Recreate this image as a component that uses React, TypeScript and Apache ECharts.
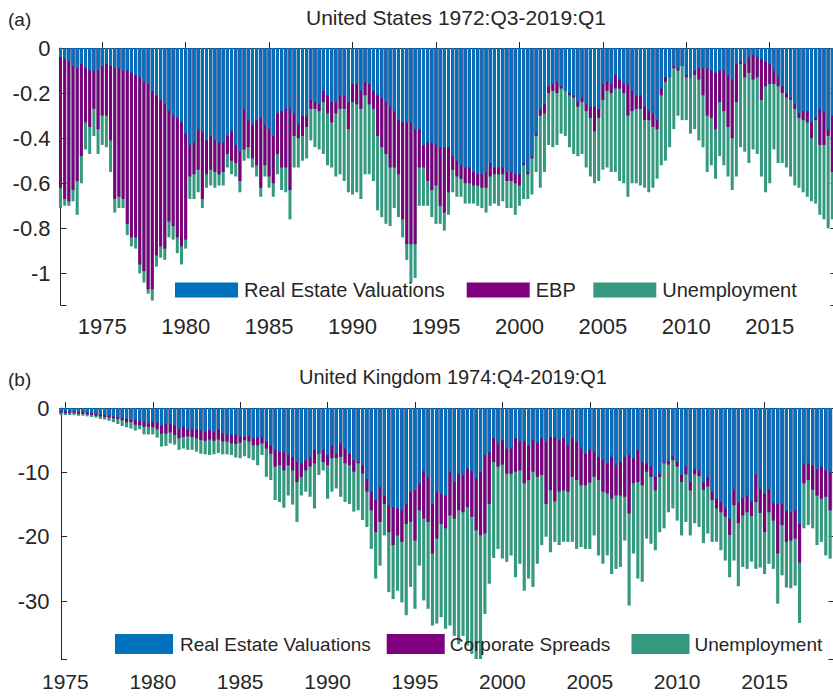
import React, { useEffect, useRef } from 'react';
import * as echarts from 'echarts';

// ---------- data ----------
const tickYears = ['1975', '1980', '1985', '1990', '1995', '2000', '2005', '2010', '2015'];
const usStart = { year: 1972, quarter: 3 };
const ukStart = { year: 1974, quarter: 4 };

// US: bottom of the blue segment (Real Estate Valuations contribution)
const usRealEstate = [
  -0.04, -0.05, -0.06, -0.08, -0.09, -0.07, -0.09, -0.10, -0.10, -0.10,
  -0.08, -0.07, -0.08, -0.09, -0.09, -0.10, -0.10, -0.11, -0.12, -0.13,
  -0.15, -0.16, -0.19, -0.21, -0.23, -0.25, -0.28, -0.30, -0.31, -0.33,
  -0.38, -0.43, -0.42, -0.36, -0.37, -0.41, -0.39, -0.41, -0.42, -0.42,
  -0.39, -0.37, -0.43, -0.46, -0.27, -0.32, -0.34, -0.32, -0.31, -0.34,
  -0.36, -0.39, -0.29, -0.28, -0.27, -0.27, -0.29, -0.34, -0.30, -0.30,
  -0.23, -0.24, -0.25, -0.19, -0.21, -0.24, -0.24, -0.21, -0.21, -0.24,
  -0.16, -0.16, -0.19, -0.15, -0.16, -0.19, -0.21, -0.22, -0.24, -0.26,
  -0.28, -0.32, -0.33, -0.33, -0.33, -0.36, -0.36, -0.43, -0.42, -0.42,
  -0.43, -0.44, -0.44, -0.44, -0.48, -0.50, -0.52, -0.53, -0.53, -0.55,
  -0.56, -0.56, -0.55, -0.51, -0.53, -0.53, -0.53, -0.55, -0.55, -0.56,
  -0.56, -0.51, -0.55, -0.48, -0.38, -0.27, -0.25, -0.17, -0.16, -0.15,
  -0.17, -0.19, -0.20, -0.21, -0.24, -0.22, -0.25, -0.26, -0.26, -0.27,
  -0.16, -0.15, -0.16, -0.12, -0.14, -0.16, -0.16, -0.19, -0.21, -0.21,
  -0.26, -0.28, -0.29, -0.32, -0.18, -0.13, -0.13, -0.08, -0.09, -0.08,
  -0.12, -0.13, -0.10, -0.09, -0.09, -0.09, -0.10, -0.11, -0.10, -0.10,
  -0.12, -0.14, -0.07, -0.06, -0.07, -0.04, -0.03, -0.04, -0.05, -0.06,
  -0.07, -0.10, -0.13, -0.17, -0.20, -0.22, -0.25, -0.29, -0.28, -0.28,
  -0.33, -0.31, -0.27, -0.28, -0.36, -0.30, -0.33,
];
// US: bottom of the purple segment (Real Estate + EBP)
const usRealEstatePlusEbp = [
  -0.62, -0.67, -0.68, -0.63, -0.59, -0.48, -0.33, -0.35, -0.27, -0.36,
  -0.30, -0.30, -0.41, -0.67, -0.66, -0.67, -0.78, -0.84, -0.84, -0.96,
  -0.99, -1.07, -1.07, -0.92, -0.88, -0.89, -0.77, -0.79, -0.84, -0.88,
  -0.85, -0.57, -0.56, -0.54, -0.67, -0.56, -0.54, -0.55, -0.56, -0.55,
  -0.47, -0.50, -0.51, -0.59, -0.45, -0.44, -0.49, -0.52, -0.62, -0.52,
  -0.57, -0.60, -0.47, -0.53, -0.53, -0.63, -0.39, -0.40, -0.39, -0.35,
  -0.27, -0.27, -0.28, -0.24, -0.29, -0.33, -0.29, -0.27, -0.27, -0.36,
  -0.24, -0.25, -0.27, -0.21, -0.25, -0.27, -0.39, -0.44, -0.47, -0.53,
  -0.53, -0.56, -0.76, -0.87, -0.87, -0.87, -0.53, -0.53, -0.59, -0.63,
  -0.61, -0.70, -0.73, -0.64, -0.54, -0.57, -0.58, -0.60, -0.60, -0.61,
  -0.61, -0.62, -0.62, -0.57, -0.56, -0.56, -0.56, -0.59, -0.59, -0.60,
  -0.61, -0.52, -0.56, -0.49, -0.39, -0.30, -0.29, -0.20, -0.19, -0.20,
  -0.18, -0.19, -0.21, -0.22, -0.26, -0.24, -0.28, -0.31, -0.37, -0.31,
  -0.23, -0.19, -0.20, -0.18, -0.18, -0.20, -0.30, -0.28, -0.27, -0.27,
  -0.32, -0.32, -0.35, -0.36, -0.21, -0.15, -0.13, -0.09, -0.10, -0.08,
  -0.13, -0.13, -0.12, -0.14, -0.21, -0.30, -0.31, -0.36, -0.24, -0.28,
  -0.35, -0.40, -0.24, -0.07, -0.13, -0.11, -0.14, -0.13, -0.23, -0.17,
  -0.16, -0.16, -0.17, -0.20, -0.22, -0.23, -0.27, -0.31, -0.32, -0.33,
  -0.40, -0.32, -0.43, -0.43, -0.39, -0.55, -0.60,
];
// US: bottom of the teal segment (total of the three)
const usTotal = [
  -0.71, -0.70, -0.70, -0.68, -0.74, -0.60, -0.45, -0.47, -0.39, -0.47,
  -0.43, -0.44, -0.55, -0.73, -0.71, -0.71, -0.83, -0.88, -0.89, -1.00,
  -1.04, -1.09, -1.12, -0.97, -0.93, -0.94, -0.84, -0.85, -0.91, -0.96,
  -0.89, -0.67, -0.67, -0.64, -0.71, -0.62, -0.61, -0.62, -0.61, -0.61,
  -0.53, -0.56, -0.57, -0.64, -0.50, -0.49, -0.53, -0.57, -0.66, -0.57,
  -0.62, -0.66, -0.56, -0.63, -0.64, -0.76, -0.53, -0.53, -0.50, -0.49,
  -0.41, -0.44, -0.45, -0.47, -0.52, -0.53, -0.57, -0.56, -0.59, -0.64,
  -0.65, -0.64, -0.67, -0.56, -0.56, -0.59, -0.72, -0.75, -0.78, -0.79,
  -0.71, -0.75, -0.84, -0.94, -1.04, -1.02, -0.70, -0.70, -0.70, -0.75,
  -0.78, -0.78, -0.81, -0.74, -0.64, -0.66, -0.66, -0.69, -0.69, -0.69,
  -0.70, -0.71, -0.73, -0.70, -0.69, -0.70, -0.68, -0.71, -0.71, -0.74,
  -0.70, -0.67, -0.67, -0.65, -0.55, -0.62, -0.55, -0.43, -0.44, -0.43,
  -0.38, -0.39, -0.44, -0.47, -0.48, -0.47, -0.53, -0.57, -0.60, -0.59,
  -0.54, -0.53, -0.55, -0.55, -0.59, -0.60, -0.66, -0.60, -0.60, -0.61,
  -0.62, -0.64, -0.62, -0.58, -0.52, -0.50, -0.44, -0.36, -0.30, -0.32,
  -0.32, -0.38, -0.36, -0.41, -0.44, -0.55, -0.52, -0.58, -0.48, -0.52,
  -0.57, -0.63, -0.57, -0.44, -0.46, -0.51, -0.45, -0.47, -0.57, -0.64,
  -0.60, -0.45, -0.51, -0.51, -0.53, -0.57, -0.61, -0.62, -0.64, -0.66,
  -0.68, -0.69, -0.74, -0.76, -0.80, -0.76, -0.82,
];

// UK: bottom of blue (Real Estate Valuations)
const ukRealEstate = [
  -0.5, -0.5, -0.5, -0.6, -0.6, -0.6, -0.7, -0.8, -0.9, -1.0,
  -1.1, -1.2, -1.3, -1.4, -1.5, -1.7, -1.8, -1.8, -2.0, -2.1,
  -2.4, -2.1, -2.3, -2.7, -2.4, -2.4, -2.7, -3.2, -2.9, -3.3,
  -3.3, -3.4, -3.5, -3.7, -3.4, -3.7, -3.3, -4.0, -4.1, -4.2,
  -4.1, -4.4, -4.5, -4.4, -4.7, -4.6, -4.5, -5.2, -5.8, -6.5,
  -6.8, -6.8, -7.3, -7.6, -8.4, -8.6, -8.1, -7.6, -6.5, -7.1,
  -6.5, -7.3, -5.8, -7.1, -5.5, -6.3, -7.1, -8.1, -8.4, -8.9,
  -11.0, -13.0, -14.3, -12.3, -13.6, -15.1, -15.4, -15.6, -15.9, -14.9,
  -13.0, -12.8, -11.7, -9.8, -10.7, -14.9, -13.0, -13.3, -13.6, -10.0,
  -11.5, -10.2, -10.4, -9.4, -9.8, -11.0, -9.9, -7.3, -6.9, -4.7,
  -5.5, -5.0, -6.3, -6.3, -4.7, -5.2, -5.2, -5.8, -5.0, -5.4,
  -4.7, -5.2, -4.5, -4.5, -5.0, -4.7, -5.8, -4.7, -5.2, -6.3,
  -7.1, -6.5, -6.8, -7.6, -8.1, -8.6, -7.6, -8.9, -8.4, -7.6,
  -7.3, -7.8, -6.5, -8.4, -8.6, -9.1, -10.7, -10.2, -8.4, -8.3,
  -7.5, -8.4, -10.4, -9.1, -11.5, -9.5, -9.8, -11.6, -10.7, -13.0,
  -14.1, -14.6, -15.6, -17.2, -12.6, -14.7, -14.0, -13.6, -14.5, -10.3,
  -12.6, -13.3, -12.6, -14.8, -14.9, -14.9, -16.0, -16.2, -15.9, -18.0,
  -8.8, -8.6, -8.9, -9.5, -9.1, -9.7, -10.0, -9.4,
];
// UK: bottom of purple (Real Estate + Corporate Spreads)
const ukRealEstatePlusSpreads = [
  -0.8, -0.8, -0.8, -0.8, -0.9, -0.9, -1.0, -1.1, -1.2, -1.3,
  -1.4, -1.5, -1.6, -1.7, -1.9, -2.2, -2.2, -2.6, -2.7, -2.9,
  -2.9, -3.0, -3.3, -4.0, -4.0, -3.8, -4.2, -4.7, -4.5, -4.4,
  -4.5, -4.7, -5.0, -5.1, -4.9, -5.1, -4.9, -5.2, -5.2, -5.5,
  -5.6, -5.4, -5.0, -5.2, -5.8, -5.8, -5.5, -6.3, -7.1, -9.1,
  -8.9, -9.7, -8.9, -9.7, -11.5, -10.7, -9.7, -9.1, -8.6, -7.1,
  -8.4, -8.9, -7.8, -7.8, -7.6, -8.6, -8.9, -9.9, -8.6, -10.2,
  -13.0, -15.9, -19.3, -17.7, -14.9, -19.3, -21.3, -19.8, -20.8, -18.0,
  -17.7, -20.6, -15.9, -17.2, -17.7, -22.6, -20.3, -18.0, -18.7, -16.7,
  -17.2, -15.9, -16.2, -15.4, -16.9, -19.0, -19.8, -19.5, -14.9, -8.4,
  -9.1, -8.8, -10.2, -10.2, -9.9, -9.7, -11.7, -11.2, -9.9, -10.7,
  -10.4, -14.9, -12.8, -14.5, -13.0, -12.8, -13.0, -10.7, -11.2, -12.0,
  -12.0, -11.6, -10.7, -11.2, -13.0, -13.3, -14.1, -13.6, -13.6, -13.8,
  -16.4, -11.7, -11.5, -12.0, -9.9, -10.7, -12.8, -10.7, -8.6, -8.8,
  -8.1, -9.1, -11.5, -10.3, -12.8, -10.3, -10.6, -12.7, -12.2, -14.3,
  -15.6, -16.2, -16.9, -19.7, -15.1, -17.9, -16.7, -16.2, -16.8, -14.6,
  -16.3, -19.3, -16.2, -17.5, -22.6, -18.2, -20.8, -20.6, -20.3, -24.0,
  -11.7, -11.2, -12.7, -13.6, -14.1, -13.8, -15.9, -15.6,
];
// UK: bottom of teal (total)
const ukTotal = [
  -1.1, -1.1, -1.1, -1.1, -1.2, -1.2, -1.3, -1.4, -1.5, -1.7,
  -1.8, -2.0, -2.2, -2.5, -2.8, -3.0, -3.2, -3.5, -3.3, -4.1,
  -4.1, -4.1, -4.6, -6.0, -5.9, -5.5, -5.7, -6.5, -6.3, -6.5,
  -6.5, -6.8, -7.1, -7.2, -7.3, -7.2, -7.0, -7.2, -7.2, -7.3,
  -7.7, -7.8, -7.5, -7.8, -8.1, -8.9, -7.3, -10.7, -11.2, -14.3,
  -14.6, -15.5, -13.6, -15.0, -17.7, -13.6, -13.0, -13.8, -15.6, -10.4,
  -9.7, -14.1, -13.0, -12.5, -13.8, -14.6, -14.9, -16.1, -15.9, -17.4,
  -18.5, -21.9, -26.5, -24.5, -19.8, -28.6, -29.7, -28.4, -30.2, -32.2,
  -27.8, -31.2, -24.5, -29.9, -31.2, -33.8, -33.5, -32.5, -34.3, -33.8,
  -35.4, -36.7, -35.4, -36.9, -38.2, -39.0, -39.0, -32.0, -27.3, -23.3,
  -21.9, -23.4, -23.9, -22.9, -26.3, -24.2, -28.4, -26.5, -27.8, -24.2,
  -21.3, -20.0, -22.4, -20.8, -21.3, -20.8, -20.8, -20.8, -21.9, -21.6,
  -21.9, -21.9, -19.8, -22.9, -24.2, -22.9, -25.8, -25.0, -24.7, -20.6,
  -30.7, -22.6, -26.5, -27.0, -20.3, -21.1, -22.1, -19.3, -18.7, -16.2,
  -15.6, -17.5, -19.8, -17.7, -19.8, -17.9, -18.5, -21.0, -19.5, -20.8,
  -20.8, -22.1, -23.7, -26.3, -23.7, -27.7, -24.7, -25.0, -23.9, -25.0,
  -24.8, -25.8, -24.2, -25.0, -30.4, -26.0, -27.9, -28.0, -27.6, -33.4,
  -18.7, -18.2, -18.7, -21.3, -20.8, -22.9, -23.4, -21.9,
];

// ---------- helpers ----------
function quarterLabels(start: { year: number; quarter: number }, count: number): string[] {
  const out: string[] = [];
  let y = start.year;
  let q = start.quarter;
  for (let i = 0; i < count; i++) {
    out.push(`${y}Q${q}`);
    q += 1;
    if (q > 4) { q = 1; y += 1; }
  }
  return out;
}

const FONT = '"Liberation Sans", Arial, Helvetica, sans-serif';
const INK = '#262626';
const BLUE = '#0072bd';
const PURPLE = '#7e007e';
const TEAL = '#35997f';

const isTick = (_i: number, v: string) => v.endsWith('Q1') && tickYears.includes(v.slice(0, 4));

function xAxesFor(gridIndex: number, cats: string[], fontSize: number, margin: number) {
  return [
    {
      type: 'category', gridIndex, data: cats, boundaryGap: false, position: 'bottom',
      axisLine: { show: true, lineStyle: { color: INK, width: 1 } },
      axisTick: { show: true, inside: true, length: 6, interval: isTick, lineStyle: { color: INK } },
      axisLabel: {
        show: true, interval: isTick, formatter: (v: string) => v.slice(0, 4),
        color: INK, fontSize, fontFamily: FONT, margin,
      },
      splitLine: { show: false },
    },
    {
      type: 'category', gridIndex, data: cats, boundaryGap: false, position: 'top',
      axisLine: { show: true, lineStyle: { color: INK, width: 1 } },
      axisTick: { show: true, inside: true, length: 6, interval: isTick, lineStyle: { color: INK } },
      axisLabel: { show: false },
      splitLine: { show: false },
    },
  ];
}

function yAxesFor(gridIndex: number, min: number, splitNumber: number, step: number, fontSize: number, margin: number) {
  const fmt = (v: number) => {
    const r = Math.round(v / step) * step;
    if (Math.abs(v - r) > 1e-6) return '';
    const n = parseFloat(r.toFixed(2));
    return n === 0 ? '0' : String(n);
  };
  const common = {
    type: 'value', gridIndex, min, max: 0, splitNumber,
    axisLine: { show: true, lineStyle: { color: INK, width: 1 } },
    axisTick: { show: true, inside: true, length: 6, lineStyle: { color: INK } },
    splitLine: { show: false },
  };
  return [
    { ...common, position: 'left', axisLabel: { show: true, formatter: fmt, color: INK, fontSize, fontFamily: FONT, margin } },
    { ...common, position: 'right', axisLabel: { show: false } },
  ];
}

function legendItem(name: string, left: number, top: number, w: number, h: number, fontSize: number, padLeft = 0) {
  return {
    show: true, data: [name], left, top, orient: 'horizontal',
    itemWidth: w, itemHeight: h, itemGap: 0, padding: 0, icon: 'rect', selectedMode: false,
    textStyle: { color: INK, fontSize, fontFamily: FONT, padding: [0, 0, 0, padLeft] },
  };
}

function bar(name: string, data: number[], color: string, axisIndex: number) {
  return {
    type: 'bar', name, data, xAxisIndex: axisIndex, yAxisIndex: axisIndex,
    barWidth: '72%', barGap: '-100%', clip: true, silent: true,
    itemStyle: { color, borderWidth: 0 },
  };
}

function text(t: string, x: number, y: number, size: number, align: string) {
  return {
    type: 'text', x, y, silent: true,
    style: {
      text: t, fill: INK, font: `${size}px ${FONT}`,
      align, textAlign: align, verticalAlign: 'middle', textVerticalAlign: 'middle',
    },
  };
}

export default function App() {
  const ref = useRef<HTMLDivElement>(null);

  useEffect(() => {
    if (!ref.current) return;
    const chart = echarts.init(ref.current, undefined, { renderer: 'svg' });
    const usCats = quarterLabels(usStart, usTotal.length);
    const ukCats = quarterLabels(ukStart, ukTotal.length);

    chart.setOption({
      animation: false,
      backgroundColor: '#ffffff',
      textStyle: { fontFamily: FONT },
      grid: [
        { left: 60.5, top: 48, width: 776, height: 257, containLabel: false },
        { left: 61, top: 408, width: 773.5, height: 251, containLabel: false },
      ],
      xAxis: [
        ...xAxesFor(0, usCats, 22, 10),
        ...xAxesFor(1, ukCats, 21, 12),
      ],
      yAxis: [
        ...yAxesFor(0, -1.14, 6, 0.2, 22, 10),
        ...yAxesFor(1, -39, 4, 10, 22, 11.5),
      ],
      legend: [
        legendItem('Real Estate Valuations', 175, 280, 63, 15, 20, 1),
        legendItem('EBP', 466.7, 280, 63, 15, 20, 1),
        legendItem('Unemployment', 593.3, 280, 63, 15, 20, 1),
        legendItem('Real Estate Valuations', 115, 634, 58, 20, 19, 2),
        legendItem('Corporate Spreads', 386.7, 634, 58, 20, 19, 0),
        legendItem('Unemployment', 631.5, 634, 58, 20, 19, 0),
      ],
      graphic: [
        text('(a)', 8, 19, 19, 'left'),
        text('United States 1972:Q3-2019:Q1', 456, 17, 21, 'center'),
        text('(b)', 8, 379, 19, 'left'),
        text('United Kingdom 1974:Q4-2019:Q1', 453, 377, 20, 'center'),
      ],
      series: [
        bar('Unemployment', usTotal, TEAL, 0),
        bar('EBP', usRealEstatePlusEbp, PURPLE, 0),
        bar('Real Estate Valuations', usRealEstate, BLUE, 0),
        bar('Unemployment', ukTotal, TEAL, 2),
        bar('Corporate Spreads', ukRealEstatePlusSpreads, PURPLE, 2),
        bar('Real Estate Valuations', ukRealEstate, BLUE, 2),
      ],
    });

    return () => chart.dispose();
  }, []);

  return (
    <div style={{ position: 'fixed', left: 0, top: 0, width: 833, height: 696, overflow: 'hidden', background: '#fff' }}>
      <div ref={ref} style={{ width: 860, height: 696 }} />
    </div>
  );
}
